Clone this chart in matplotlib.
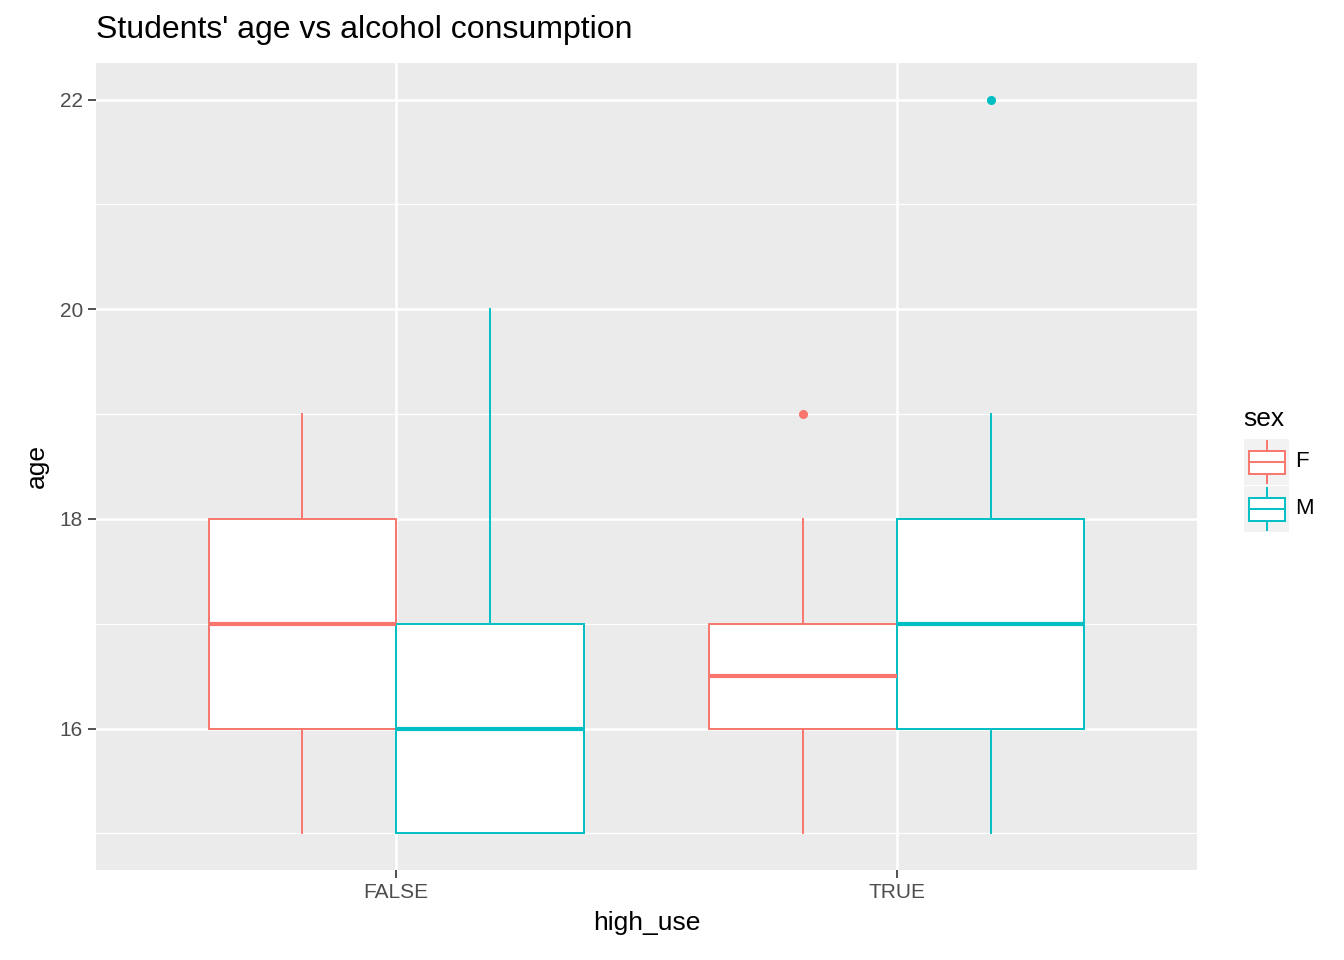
import matplotlib
matplotlib.use("Agg")
import matplotlib.pyplot as plt
from matplotlib.patches import Rectangle

plt.rcParams['font.family'] = ['Liberation Sans', 'DejaVu Sans']

categories = ["FALSE", "TRUE"]
sexes = ["F", "M"]
colors = {"F": "#F8766D", "M": "#00BFC4"}
# stats: (whislo, q1, med, q3, whishi, fliers)
stats = {
    ("FALSE", "F"): (15, 16, 17, 18, 19, []),
    ("FALSE", "M"): (15, 15, 16, 17, 20, []),
    ("TRUE", "F"): (15, 16, 16.5, 17, 18, [19]),
    ("TRUE", "M"): (15, 16, 17, 18, 19, [22]),
}

W, H = 1344, 960
fig = plt.figure(figsize=(W/100, H/100), dpi=100)
ax = fig.add_axes([96/W, 90/H, 1101/W, 807/H])
ax.set_facecolor("#EBEBEB")
ax.set_xlim(0.4, 2.6)
ax.set_ylim(14.65, 22.35)
for y in [15, 17, 19, 21]:
    ax.axhline(y, color="white", lw=0.9, zorder=0)
for y in [16, 18, 20, 22]:
    ax.axhline(y, color="white", lw=1.8, zorder=0)
for x in [1, 2]:
    ax.axvline(x, color="white", lw=1.8, zorder=0)

for i, c in enumerate(categories):
    for j, s in enumerate(sexes):
        lo, q1, med, q3, hi, fl = stats[(c, s)]
        pos = i + 1 + (-0.1875 if j == 0 else 0.1875)
        ax.bxp([dict(whislo=lo, q1=q1, med=med, q3=q3, whishi=hi, fliers=fl)],
               positions=[pos], widths=0.375, patch_artist=True, showcaps=False,
               boxprops=dict(facecolor="white", edgecolor=colors[s], lw=1.4),
               whiskerprops=dict(color=colors[s], lw=1.4),
               medianprops=dict(color=colors[s], lw=3),
               flierprops=dict(marker="o", markerfacecolor=colors[s],
                               markeredgecolor=colors[s], markersize=5.5),
               manage_ticks=False, zorder=3)

for sp in ax.spines.values():
    sp.set_visible(False)
ax.set_xticks([1, 2])
ax.set_xticklabels(categories)
ax.set_yticks([16, 18, 20, 22])
ax.tick_params(colors="#333333", labelsize=15, length=6, width=1.2)
for t in ax.get_xticklabels() + ax.get_yticklabels():
    t.set_color("#4D4D4D")
ax.set_xlabel("high_use", fontsize=19, labelpad=6)
ax.set_ylabel("age", fontsize=19, labelpad=8)
fig.text(96/W, 1 - 30/H, "Students' age vs alcohol consumption", fontsize=23,
         va="center", ha="left")

# legend
fig.text(1243/W, 1 - 419/H, "sex", fontsize=19, va="center", ha="left")
for k, s in enumerate(sexes):
    yc = 462 + k * 47
    lax = fig.add_axes([1244/W, 1 - (yc + 23)/H, 45/W, 46/H])
    lax.set_facecolor("#F2F2F2")
    lax.set_xlim(0, 1); lax.set_ylim(0, 1)
    lax.set_xticks([]); lax.set_yticks([])
    for sp in lax.spines.values():
        sp.set_visible(False)
    lax.add_patch(Rectangle((0.1, 0.25), 0.8, 0.5, facecolor="white",
                            edgecolor=colors[s], lw=1.4))
    lax.plot([0.1, 0.9], [0.5, 0.5], color=colors[s], lw=1.4)
    lax.plot([0.5, 0.5], [0.05, 0.25], color=colors[s], lw=1.4)
    lax.plot([0.5, 0.5], [0.75, 0.95], color=colors[s], lw=1.4)
    fig.text(1295/W, 1 - yc/H, s, fontsize=16, va="center", ha="left")

fig.savefig("out.png", dpi=100)
